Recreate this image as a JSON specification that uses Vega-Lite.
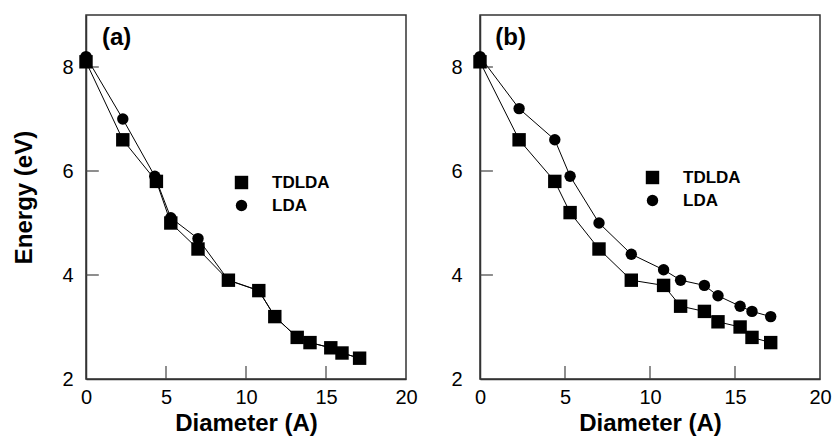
{
  "$schema": "https://vega.github.io/schema/vega-lite/v6.json",
  "padding": {"left": 12, "top": 14, "right": 0, "bottom": 0},
  "background": "white",
  "config": {
    "font": "Liberation Sans",
    "view": {"stroke": "#333", "strokeWidth": 1.5},
    "axis": {
      "grid": false,
      "domainColor": "#333",
      "domainWidth": 1.5,
      "ticks": false,
      "labelFontSize": 20,
      "labelColor": "black",
      "labelFont": "Liberation Sans",
      "labelFlush": false,
      "labelOverlap": false,
      "format": "d",
      "titleFont": "Liberation Sans",
      "titleFontSize": 24,
      "titleFontWeight": "bold",
      "titleColor": "black"
    },
    "legend": {
      "labelFont": "Liberation Sans",
      "labelFontSize": 17,
      "labelFontWeight": "bold",
      "labelColor": "black",
      "padding": 0,
      "labelOffset": 22,
      "rowPadding": 5,
      "symbolStrokeWidth": 0
    }
  },
  "datasets": {
    "pts": [
      {"p": "a", "s": "TDLDA", "d": 0, "e": 8.1},
      {"p": "a", "s": "TDLDA", "d": 2.3, "e": 6.6},
      {"p": "a", "s": "TDLDA", "d": 4.4, "e": 5.8},
      {"p": "a", "s": "TDLDA", "d": 5.3, "e": 5.0},
      {"p": "a", "s": "TDLDA", "d": 7.0, "e": 4.5},
      {"p": "a", "s": "TDLDA", "d": 8.9, "e": 3.9},
      {"p": "a", "s": "TDLDA", "d": 10.8, "e": 3.7},
      {"p": "a", "s": "TDLDA", "d": 11.8, "e": 3.2},
      {"p": "a", "s": "TDLDA", "d": 13.2, "e": 2.8},
      {"p": "a", "s": "TDLDA", "d": 14.0, "e": 2.7},
      {"p": "a", "s": "TDLDA", "d": 15.3, "e": 2.6},
      {"p": "a", "s": "TDLDA", "d": 16.0, "e": 2.5},
      {"p": "a", "s": "TDLDA", "d": 17.1, "e": 2.4},
      {"p": "a", "s": "LDA", "d": 0, "e": 8.2},
      {"p": "a", "s": "LDA", "d": 2.3, "e": 7.0},
      {"p": "a", "s": "LDA", "d": 4.3, "e": 5.9},
      {"p": "a", "s": "LDA", "d": 5.3, "e": 5.1},
      {"p": "a", "s": "LDA", "d": 7.0, "e": 4.7},
      {"p": "a", "s": "LDA", "d": 8.9, "e": 3.9},
      {"p": "a", "s": "LDA", "d": 10.8, "e": 3.7},
      {"p": "a", "s": "LDA", "d": 11.8, "e": 3.2},
      {"p": "a", "s": "LDA", "d": 13.2, "e": 2.8},
      {"p": "a", "s": "LDA", "d": 14.0, "e": 2.7},
      {"p": "a", "s": "LDA", "d": 15.3, "e": 2.6},
      {"p": "a", "s": "LDA", "d": 16.0, "e": 2.5},
      {"p": "a", "s": "LDA", "d": 17.1, "e": 2.4},
      {"p": "b", "s": "TDLDA", "d": 0, "e": 8.1},
      {"p": "b", "s": "TDLDA", "d": 2.3, "e": 6.6},
      {"p": "b", "s": "TDLDA", "d": 4.4, "e": 5.8},
      {"p": "b", "s": "TDLDA", "d": 5.3, "e": 5.2},
      {"p": "b", "s": "TDLDA", "d": 7.0, "e": 4.5},
      {"p": "b", "s": "TDLDA", "d": 8.9, "e": 3.9},
      {"p": "b", "s": "TDLDA", "d": 10.8, "e": 3.8},
      {"p": "b", "s": "TDLDA", "d": 11.8, "e": 3.4},
      {"p": "b", "s": "TDLDA", "d": 13.2, "e": 3.3},
      {"p": "b", "s": "TDLDA", "d": 14.0, "e": 3.1},
      {"p": "b", "s": "TDLDA", "d": 15.3, "e": 3.0},
      {"p": "b", "s": "TDLDA", "d": 16.0, "e": 2.8},
      {"p": "b", "s": "TDLDA", "d": 17.1, "e": 2.7},
      {"p": "b", "s": "LDA", "d": 0, "e": 8.2},
      {"p": "b", "s": "LDA", "d": 2.3, "e": 7.2},
      {"p": "b", "s": "LDA", "d": 4.4, "e": 6.6},
      {"p": "b", "s": "LDA", "d": 5.3, "e": 5.9},
      {"p": "b", "s": "LDA", "d": 7.0, "e": 5.0},
      {"p": "b", "s": "LDA", "d": 8.9, "e": 4.4},
      {"p": "b", "s": "LDA", "d": 10.8, "e": 4.1},
      {"p": "b", "s": "LDA", "d": 11.8, "e": 3.9},
      {"p": "b", "s": "LDA", "d": 13.2, "e": 3.8},
      {"p": "b", "s": "LDA", "d": 14.0, "e": 3.6},
      {"p": "b", "s": "LDA", "d": 15.3, "e": 3.4},
      {"p": "b", "s": "LDA", "d": 16.0, "e": 3.3},
      {"p": "b", "s": "LDA", "d": 17.1, "e": 3.2}
    ],
    "labels": [
      {"p": "a", "t": "(a)", "d": 1.0, "e": 8.56},
      {"p": "b", "t": "(b)", "d": 0.9, "e": 8.56}
    ],
    "xticks": [{"v": 5}, {"v": 10}, {"v": 15}],
    "yticks": [{"v": 4}, {"v": 6}, {"v": 8}]
  },
  "spacing": 32,
  "resolve": {
    "scale": {"shape": "independent", "size": "independent"},
    "legend": {"shape": "independent", "size": "independent"}
  },
  "hconcat": [
    {
      "width": 320,
      "height": 364,
      "layer": [
        {
          "data": {"name": "pts"},
          "transform": [{"filter": "datum.p === 'a'"}],
          "mark": {"type": "line", "color": "black", "strokeWidth": 1},
          "encoding": {
            "x": {"field": "d", "type": "quantitative", "scale": {"domain": [0, 20], "nice": false},
                  "axis": {"values": [0, 5, 10, 15, 20], "title": "Diameter (A)", "labelPadding": 8, "titlePadding": 4}},
            "y": {"field": "e", "type": "quantitative", "scale": {"domain": [2, 9], "nice": false, "zero": false},
                  "axis": {"values": [2, 4, 6, 8], "title": "Energy (eV)", "labelPadding": 13, "titlePadding": 25}},
            "detail": {"field": "s"},
            "order": {"field": "d", "type": "quantitative"}
          }
        },
        {
          "data": {"name": "xticks"},
          "mark": {"type": "rule", "color": "#444", "strokeWidth": 1.2},
          "encoding": {
            "x": {"field": "v", "type": "quantitative"},
            "y": {"datum": 2, "type": "quantitative"},
            "y2": {"datum": 2.25}
          }
        },
        {
          "data": {"name": "yticks"},
          "mark": {"type": "rule", "color": "#444", "strokeWidth": 1.2},
          "encoding": {
            "y": {"field": "v", "type": "quantitative"},
            "x": {"datum": 0, "type": "quantitative"},
            "x2": {"datum": 0.8}
          }
        },
        {
          "data": {"name": "pts"},
          "transform": [{"filter": "datum.p === 'a'"}],
          "mark": {"type": "point", "filled": true, "color": "black", "opacity": 1},
          "encoding": {
            "x": {"field": "d", "type": "quantitative"},
            "y": {"field": "e", "type": "quantitative"},
            "shape": {"field": "s", "type": "nominal", "scale": {"domain": ["TDLDA", "LDA"], "range": ["square", "circle"]},
                      "legend": {"title": null, "orient": "none", "legendX": 147, "legendY": 159}},
            "size": {"field": "s", "type": "nominal", "scale": {"domain": ["TDLDA", "LDA"], "range": [180, 130]},
                     "legend": {"title": null, "orient": "none", "legendX": 147, "legendY": 159}}
          }
        },
        {
          "data": {"name": "labels"},
          "transform": [{"filter": "datum.p === 'a'"}],
          "mark": {"type": "text", "align": "left", "baseline": "middle", "fontSize": 24, "fontWeight": "bold", "color": "black"},
          "encoding": {
            "x": {"field": "d", "type": "quantitative"},
            "y": {"field": "e", "type": "quantitative"},
            "text": {"field": "t"}
          }
        }
      ]
    },
    {
      "width": 340,
      "height": 364,
      "layer": [
        {
          "data": {"name": "pts"},
          "transform": [{"filter": "datum.p === 'b'"}],
          "mark": {"type": "line", "color": "black", "strokeWidth": 1},
          "encoding": {
            "x": {"field": "d", "type": "quantitative", "scale": {"domain": [0, 20], "nice": false},
                  "axis": {"values": [0, 5, 10, 15, 20], "title": "Diameter (A)", "labelPadding": 8, "titlePadding": 4}},
            "y": {"field": "e", "type": "quantitative", "scale": {"domain": [2, 9], "nice": false, "zero": false},
                  "axis": {"values": [2, 4, 6, 8], "title": null, "labelPadding": 18}},
            "detail": {"field": "s"},
            "order": {"field": "d", "type": "quantitative"}
          }
        },
        {
          "data": {"name": "xticks"},
          "mark": {"type": "rule", "color": "#444", "strokeWidth": 1.2},
          "encoding": {
            "x": {"field": "v", "type": "quantitative"},
            "y": {"datum": 2, "type": "quantitative"},
            "y2": {"datum": 2.25}
          }
        },
        {
          "data": {"name": "yticks"},
          "mark": {"type": "rule", "color": "#444", "strokeWidth": 1.2},
          "encoding": {
            "y": {"field": "v", "type": "quantitative"},
            "x": {"datum": 0, "type": "quantitative"},
            "x2": {"datum": 0.76}
          }
        },
        {
          "data": {"name": "pts"},
          "transform": [{"filter": "datum.p === 'b'"}],
          "mark": {"type": "point", "filled": true, "color": "black", "opacity": 1},
          "encoding": {
            "x": {"field": "d", "type": "quantitative"},
            "y": {"field": "e", "type": "quantitative"},
            "shape": {"field": "s", "type": "nominal", "scale": {"domain": ["TDLDA", "LDA"], "range": ["square", "circle"]},
                      "legend": {"title": null, "orient": "none", "legendX": 164, "legendY": 154}},
            "size": {"field": "s", "type": "nominal", "scale": {"domain": ["TDLDA", "LDA"], "range": [180, 130]},
                     "legend": {"title": null, "orient": "none", "legendX": 164, "legendY": 154}}
          }
        },
        {
          "data": {"name": "labels"},
          "transform": [{"filter": "datum.p === 'b'"}],
          "mark": {"type": "text", "align": "left", "baseline": "middle", "fontSize": 24, "fontWeight": "bold", "color": "black"},
          "encoding": {
            "x": {"field": "d", "type": "quantitative"},
            "y": {"field": "e", "type": "quantitative"},
            "text": {"field": "t"}
          }
        }
      ]
    }
  ]
}
